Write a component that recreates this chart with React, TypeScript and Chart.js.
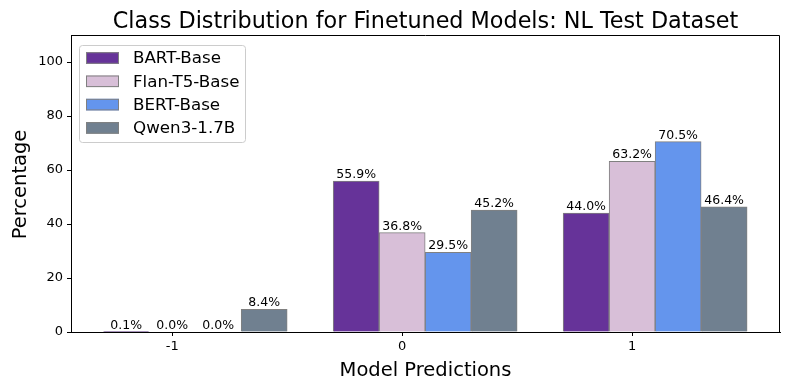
import React, { useEffect, useRef } from "react";
import { Chart, registerables } from "chart.js";

Chart.register(...registerables);

const categories = [-1, 0, 1];
const seriesNames = ["BART-Base", "Flan-T5-Base", "BERT-Base", "Qwen3-1.7B"];
const seriesColors = ["#663399", "#D8BFD8", "#6495ED", "#708090"];
const bartValues = [0.1, 55.9, 44.0];
const flanValues = [0.0, 36.8, 63.2];
const bertValues = [0.0, 29.5, 70.5];
const qwenValues = [8.4, 45.2, 46.4];
const seriesOffsets = [-0.2, 0, 0.2, 0.4];
const yTicks = [0, 20, 40, 60, 80, 100];

const titleText = "Class Distribution for Finetuned Models: NL Test Dataset";
const xTitle = "Model Predictions";
const yTitle = "Percentage";
const FONT = "'DejaVu Sans', sans-serif";

const allValues = [bartValues, flanValues, bertValues, qwenValues];

const decorPlugin = {
  id: "decor",
  afterDatasetsDraw(chart: any) {
    const ctx = chart.ctx;
    ctx.save();
    ctx.fillStyle = "#000";
    ctx.font = `12.5px ${FONT}`;
    ctx.textAlign = "center";
    ctx.textBaseline = "alphabetic";
    chart.data.datasets.forEach((ds: any, di: number) => {
      const meta = chart.getDatasetMeta(di);
      meta.data.forEach((el: any, i: number) => {
        const v = ds.data[i].y;
        ctx.fillText(`${v.toFixed(1)}%`, el.x, el.y - 3);
      });
    });
    ctx.restore();
  },
  afterDraw(chart: any) {
    const ctx = chart.ctx;
    const a = chart.chartArea;
    ctx.save();
    // frame
    ctx.strokeStyle = "#000";
    ctx.lineWidth = 1;
    ctx.beginPath();
    ctx.moveTo(a.left + 0.5, a.top + 0.5);
    ctx.lineTo(a.right - 0.5, a.top + 0.5);
    ctx.lineTo(a.right - 0.5, a.bottom);
    ctx.stroke();

    // titles
    ctx.fillStyle = "#000";
    ctx.textAlign = "center";
    ctx.textBaseline = "alphabetic";
    const cx = (a.left + a.right) / 2;
    ctx.font = `22.3px ${FONT}`;
    ctx.fillText(titleText, cx, 28);
    ctx.font = `19.5px ${FONT}`;
    ctx.fillText(xTitle, cx, 376);
    ctx.save();
    ctx.translate(26, (a.top + a.bottom) / 2 + 1);
    ctx.rotate(-Math.PI / 2);
    ctx.fillText(yTitle, 0, 0);
    ctx.restore();

    // legend
    const lx = 79.5, ly = 45.5, lw = 166, lh = 97;
    ctx.beginPath();
    ctx.roundRect(lx, ly, lw, lh, 3);
    ctx.fillStyle = "rgba(255,255,255,0.8)";
    ctx.fill();
    ctx.strokeStyle = "#cccccc";
    ctx.stroke();
    ctx.font = `16.7px ${FONT}`;
    ctx.textAlign = "left";
    ctx.textBaseline = "middle";
    seriesNames.forEach((name, i) => {
      const cy = 58 + i * 23.3;
      ctx.fillStyle = seriesColors[i];
      ctx.fillRect(86, cy - 5.8, 33, 11.6);
      ctx.strokeStyle = "gray";
      ctx.strokeRect(86.5, cy - 5.3, 32, 10.6);
      ctx.fillStyle = "#000";
      ctx.fillText(name, 133, cy + 1);
    });
    ctx.restore();
  },
};

export default function App() {
  const ref = useRef<HTMLCanvasElement | null>(null);
  useEffect(() => {
    if (!ref.current) return;
    Chart.defaults.font.family = FONT;
    const datasets = seriesNames.map((name, si) => ({
      label: name,
      data: categories.map((c, ci) => ({ x: c + seriesOffsets[si], y: allValues[si][ci] })),
      backgroundColor: seriesColors[si],
      borderColor: "gray",
      borderWidth: 1,
      grouped: false,
      barPercentage: 1,
      categoryPercentage: 1,
    }));
    const chart = new Chart(ref.current, {
      type: "bar",
      data: { datasets },
      options: {
        responsive: false,
        animation: false,
        layout: { padding: { top: 35, right: 10, left: 0, bottom: 0 } },
        plugins: { legend: { display: false }, title: { display: false }, tooltip: { enabled: false } },
        scales: {
          x: {
            type: "linear",
            offset: false,
            min: -1.44,
            max: 1.643,
            afterBuildTicks: (s: any) => {
              s.ticks = categories.map((v) => ({ value: v }));
            },
            afterFit: (s: any) => {
              s.height = 58;
            },
            ticks: {
              autoSkip: false,
              maxRotation: 0,
              color: "#000",
              font: { size: 13, family: FONT },
              padding: 3,
              callback: (v: any) => String(v),
            },
            grid: { display: true, offset: false, drawOnChartArea: false, drawTicks: true, tickLength: 4, tickColor: "#000" },
            border: { display: true, color: "#000", width: 1 },
          },
          y: {
            type: "linear",
            min: 0,
            max: 110,
            afterBuildTicks: (s: any) => {
              s.ticks = yTicks.map((v) => ({ value: v }));
            },
            afterFit: (s: any) => {
              s.width = 71;
            },
            ticks: {
              color: "#000",
              font: { size: 13, family: FONT },
              padding: 4,
              callback: (v: any) => String(v),
            },
            grid: { display: true, drawOnChartArea: false, drawTicks: true, tickLength: 4, tickColor: "#000" },
            border: { display: true, color: "#000", width: 1 },
          },
        },
      },
      plugins: [decorPlugin],
    } as any);
    return () => chart.destroy();
  }, []);
  return (
    <div style={{ position: "fixed", left: 0, top: 0, width: 790, height: 390, background: "#fff" }}>
      <canvas ref={ref} width={790} height={390} style={{ width: 790, height: 390, display: "block" }} />
    </div>
  );
}
